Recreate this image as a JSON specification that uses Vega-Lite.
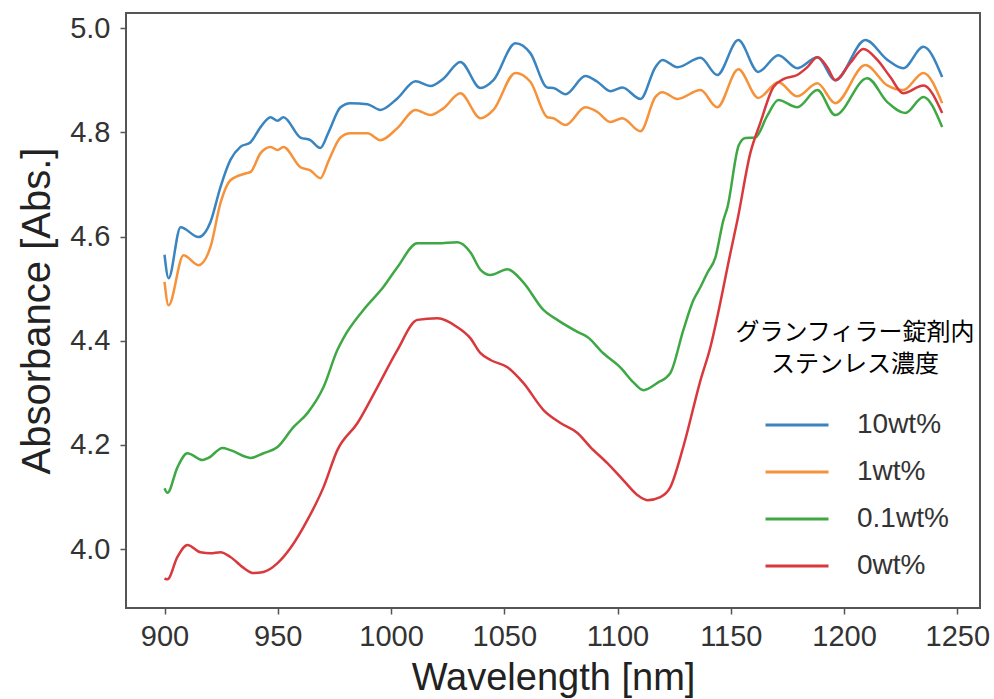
{
 "$schema": "https://vega.github.io/schema/vega-lite/v6.json",
 "width": 854, "height": 595,
 "autosize": {"type": "none"},
 "padding": {"left": 126, "top": 13, "right": 14, "bottom": 91},
 "background": "white",
 "config": {"view": {"stroke": "#555", "strokeWidth": 2}, "font": "Liberation Sans"},
 "data": {"values": [
  {"s":"10wt%","w":900,"a":4.565},{"s":"10wt%","w":901.8,"a":4.52},{"s":"10wt%","w":907.1,"a":4.618},{"s":"10wt%","w":915,"a":4.599},{"s":"10wt%","w":920.3,"a":4.628},{"s":"10wt%","w":924.7,"a":4.695},{"s":"10wt%","w":929.1,"a":4.747},{"s":"10wt%","w":933.5,"a":4.772},{"s":"10wt%","w":938,"a":4.781},{"s":"10wt%","w":942.4,"a":4.81},{"s":"10wt%","w":946.8,"a":4.829},{"s":"10wt%","w":949.9,"a":4.822},{"s":"10wt%","w":952.5,"a":4.829},{"s":"10wt%","w":960,"a":4.79},{"s":"10wt%","w":964.4,"a":4.785},{"s":"10wt%","w":968.8,"a":4.77},{"s":"10wt%","w":972.4,"a":4.8},{"s":"10wt%","w":977.7,"a":4.848},{"s":"10wt%","w":982.1,"a":4.856},{"s":"10wt%","w":989.6,"a":4.854},{"s":"10wt%","w":995.3,"a":4.843},{"s":"10wt%","w":1002.8,"a":4.865},{"s":"10wt%","w":1010.8,"a":4.898},{"s":"10wt%","w":1017.4,"a":4.889},{"s":"10wt%","w":1023.1,"a":4.903},{"s":"10wt%","w":1030.6,"a":4.935},{"s":"10wt%","w":1039.5,"a":4.885},{"s":"10wt%","w":1045.2,"a":4.9},{"s":"10wt%","w":1054.9,"a":4.971},{"s":"10wt%","w":1061.5,"a":4.952},{"s":"10wt%","w":1069,"a":4.886},{"s":"10wt%","w":1071.7,"a":4.885},{"s":"10wt%","w":1077,"a":4.873},{"s":"10wt%","w":1085.8,"a":4.908},{"s":"10wt%","w":1091.1,"a":4.897},{"s":"10wt%","w":1096.8,"a":4.879},{"s":"10wt%","w":1102.1,"a":4.886},{"s":"10wt%","w":1110.1,"a":4.864},{"s":"10wt%","w":1116.7,"a":4.925},{"s":"10wt%","w":1119.8,"a":4.939},{"s":"10wt%","w":1126.4,"a":4.925},{"s":"10wt%","w":1136.6,"a":4.943},{"s":"10wt%","w":1144,"a":4.91},{"s":"10wt%","w":1153.3,"a":4.977},{"s":"10wt%","w":1162.1,"a":4.916},{"s":"10wt%","w":1171,"a":4.948},{"s":"10wt%","w":1179.3,"a":4.923},{"s":"10wt%","w":1188.2,"a":4.944},{"s":"10wt%","w":1196.1,"a":4.9},{"s":"10wt%","w":1209.4,"a":4.977},{"s":"10wt%","w":1219.1,"a":4.939},{"s":"10wt%","w":1226.1,"a":4.923},{"s":"10wt%","w":1235,"a":4.964},{"s":"10wt%","w":1243.3,"a":4.906},
  {"s":"1wt%","w":900,"a":4.513},{"s":"1wt%","w":901.8,"a":4.468},{"s":"1wt%","w":908.4,"a":4.564},{"s":"1wt%","w":915,"a":4.545},{"s":"1wt%","w":920.3,"a":4.58},{"s":"1wt%","w":924.7,"a":4.664},{"s":"1wt%","w":929.1,"a":4.708},{"s":"1wt%","w":935.7,"a":4.721},{"s":"1wt%","w":938,"a":4.724},{"s":"1wt%","w":942.4,"a":4.76},{"s":"1wt%","w":946.8,"a":4.772},{"s":"1wt%","w":949.9,"a":4.766},{"s":"1wt%","w":952.5,"a":4.772},{"s":"1wt%","w":960,"a":4.733},{"s":"1wt%","w":964.4,"a":4.727},{"s":"1wt%","w":968.8,"a":4.712},{"s":"1wt%","w":972.4,"a":4.745},{"s":"1wt%","w":977.7,"a":4.79},{"s":"1wt%","w":982.1,"a":4.798},{"s":"1wt%","w":989.6,"a":4.798},{"s":"1wt%","w":995.3,"a":4.785},{"s":"1wt%","w":1002.8,"a":4.808},{"s":"1wt%","w":1010.8,"a":4.843},{"s":"1wt%","w":1017.4,"a":4.833},{"s":"1wt%","w":1023.1,"a":4.846},{"s":"1wt%","w":1030.6,"a":4.875},{"s":"1wt%","w":1039.5,"a":4.827},{"s":"1wt%","w":1045.2,"a":4.843},{"s":"1wt%","w":1054.9,"a":4.914},{"s":"1wt%","w":1061.5,"a":4.897},{"s":"1wt%","w":1069,"a":4.829},{"s":"1wt%","w":1071.7,"a":4.827},{"s":"1wt%","w":1077,"a":4.814},{"s":"1wt%","w":1085.8,"a":4.848},{"s":"1wt%","w":1091.1,"a":4.839},{"s":"1wt%","w":1096.8,"a":4.82},{"s":"1wt%","w":1102.1,"a":4.827},{"s":"1wt%","w":1110.1,"a":4.802},{"s":"1wt%","w":1116.7,"a":4.868},{"s":"1wt%","w":1119.8,"a":4.877},{"s":"1wt%","w":1126.4,"a":4.864},{"s":"1wt%","w":1136.6,"a":4.881},{"s":"1wt%","w":1144,"a":4.848},{"s":"1wt%","w":1153.3,"a":4.921},{"s":"1wt%","w":1162.1,"a":4.866},{"s":"1wt%","w":1171,"a":4.896},{"s":"1wt%","w":1179.3,"a":4.869},{"s":"1wt%","w":1188.2,"a":4.894},{"s":"1wt%","w":1196.1,"a":4.856},{"s":"1wt%","w":1209.4,"a":4.929},{"s":"1wt%","w":1219.1,"a":4.89},{"s":"1wt%","w":1226.1,"a":4.881},{"s":"1wt%","w":1235,"a":4.914},{"s":"1wt%","w":1243.3,"a":4.856},
  {"s":"0.1wt%","w":900,"a":4.117},{"s":"0.1wt%","w":901.3,"a":4.108},{"s":"0.1wt%","w":905.7,"a":4.157},{"s":"0.1wt%","w":910.1,"a":4.184},{"s":"0.1wt%","w":916.8,"a":4.171},{"s":"0.1wt%","w":919.4,"a":4.175},{"s":"0.1wt%","w":925.6,"a":4.194},{"s":"0.1wt%","w":929.1,"a":4.19},{"s":"0.1wt%","w":938,"a":4.175},{"s":"0.1wt%","w":943.7,"a":4.184},{"s":"0.1wt%","w":949.9,"a":4.196},{"s":"0.1wt%","w":956.9,"a":4.234},{"s":"0.1wt%","w":963.1,"a":4.261},{"s":"0.1wt%","w":970.2,"a":4.311},{"s":"0.1wt%","w":976.3,"a":4.382},{"s":"0.1wt%","w":979,"a":4.405},{"s":"0.1wt%","w":987.8,"a":4.459},{"s":"0.1wt%","w":996.6,"a":4.503},{"s":"0.1wt%","w":1002.8,"a":4.541},{"s":"0.1wt%","w":1011.6,"a":4.587},{"s":"0.1wt%","w":1020.5,"a":4.587},{"s":"0.1wt%","w":1029.3,"a":4.589},{"s":"0.1wt%","w":1035,"a":4.57},{"s":"0.1wt%","w":1039.5,"a":4.536},{"s":"0.1wt%","w":1043.9,"a":4.526},{"s":"0.1wt%","w":1051.4,"a":4.537},{"s":"0.1wt%","w":1058.4,"a":4.512},{"s":"0.1wt%","w":1067.3,"a":4.459},{"s":"0.1wt%","w":1073.4,"a":4.44},{"s":"0.1wt%","w":1082.3,"a":4.417},{"s":"0.1wt%","w":1086.7,"a":4.407},{"s":"0.1wt%","w":1093.7,"a":4.376},{"s":"0.1wt%","w":1101.2,"a":4.349},{"s":"0.1wt%","w":1107,"a":4.32},{"s":"0.1wt%","w":1111.4,"a":4.305},{"s":"0.1wt%","w":1117.6,"a":4.319},{"s":"0.1wt%","w":1123.3,"a":4.338},{"s":"0.1wt%","w":1129,"a":4.42},{"s":"0.1wt%","w":1133.5,"a":4.478},{"s":"0.1wt%","w":1136.6,"a":4.503},{"s":"0.1wt%","w":1139.6,"a":4.53},{"s":"0.1wt%","w":1143.2,"a":4.56},{"s":"0.1wt%","w":1146.7,"a":4.631},{"s":"0.1wt%","w":1148.5,"a":4.656},{"s":"0.1wt%","w":1153.5,"a":4.775},{"s":"0.1wt%","w":1156.4,"a":4.789},{"s":"0.1wt%","w":1160.8,"a":4.79},{"s":"0.1wt%","w":1166.1,"a":4.832},{"s":"0.1wt%","w":1171,"a":4.862},{"s":"0.1wt%","w":1179.3,"a":4.848},{"s":"0.1wt%","w":1188.2,"a":4.881},{"s":"0.1wt%","w":1196.1,"a":4.833},{"s":"0.1wt%","w":1210.2,"a":4.904},{"s":"0.1wt%","w":1219.1,"a":4.858},{"s":"0.1wt%","w":1227,"a":4.837},{"s":"0.1wt%","w":1235,"a":4.868},{"s":"0.1wt%","w":1243.3,"a":4.81},
  {"s":"0wt%","w":900,"a":3.944},{"s":"0wt%","w":901.3,"a":3.942},{"s":"0wt%","w":905.7,"a":3.985},{"s":"0wt%","w":910.1,"a":4.008},{"s":"0wt%","w":915.9,"a":3.994},{"s":"0wt%","w":920.3,"a":3.992},{"s":"0wt%","w":924.7,"a":3.994},{"s":"0wt%","w":929.1,"a":3.985},{"s":"0wt%","w":934.9,"a":3.964},{"s":"0wt%","w":939.3,"a":3.954},{"s":"0wt%","w":943.7,"a":3.956},{"s":"0wt%","w":949.9,"a":3.973},{"s":"0wt%","w":955.6,"a":4.002},{"s":"0wt%","w":963.1,"a":4.056},{"s":"0wt%","w":970.2,"a":4.119},{"s":"0wt%","w":976.3,"a":4.19},{"s":"0wt%","w":985.2,"a":4.242},{"s":"0wt%","w":994,"a":4.311},{"s":"0wt%","w":1002.8,"a":4.382},{"s":"0wt%","w":1011.6,"a":4.44},{"s":"0wt%","w":1020.5,"a":4.443},{"s":"0wt%","w":1029.3,"a":4.426},{"s":"0wt%","w":1035,"a":4.405},{"s":"0wt%","w":1039.5,"a":4.376},{"s":"0wt%","w":1043.9,"a":4.363},{"s":"0wt%","w":1051.4,"a":4.349},{"s":"0wt%","w":1058.4,"a":4.319},{"s":"0wt%","w":1067.3,"a":4.267},{"s":"0wt%","w":1074.8,"a":4.242},{"s":"0wt%","w":1082.3,"a":4.223},{"s":"0wt%","w":1088,"a":4.196},{"s":"0wt%","w":1095.5,"a":4.165},{"s":"0wt%","w":1102.6,"a":4.132},{"s":"0wt%","w":1108.7,"a":4.104},{"s":"0wt%","w":1113.1,"a":4.094},{"s":"0wt%","w":1118.9,"a":4.1},{"s":"0wt%","w":1123.3,"a":4.119},{"s":"0wt%","w":1129,"a":4.196},{"s":"0wt%","w":1136.6,"a":4.324},{"s":"0wt%","w":1141,"a":4.388},{"s":"0wt%","w":1144,"a":4.445},{"s":"0wt%","w":1149.8,"a":4.568},{"s":"0wt%","w":1152.9,"a":4.631},{"s":"0wt%","w":1158.6,"a":4.76},{"s":"0wt%","w":1163,"a":4.818},{"s":"0wt%","w":1168.8,"a":4.887},{"s":"0wt%","w":1173.2,"a":4.902},{"s":"0wt%","w":1179.3,"a":4.91},{"s":"0wt%","w":1183.8,"a":4.925},{"s":"0wt%","w":1188.2,"a":4.944},{"s":"0wt%","w":1192.6,"a":4.925},{"s":"0wt%","w":1196.1,"a":4.9},{"s":"0wt%","w":1202.7,"a":4.933},{"s":"0wt%","w":1208.5,"a":4.96},{"s":"0wt%","w":1214.7,"a":4.939},{"s":"0wt%","w":1220.4,"a":4.906},{"s":"0wt%","w":1226.1,"a":4.875},{"s":"0wt%","w":1235,"a":4.89},{"s":"0wt%","w":1243.3,"a":4.837}
 ]},
 "mark": {"type": "line", "interpolate": "monotone", "strokeWidth": 2.5},
 "encoding": {
  "x": {"field": "w", "type": "quantitative",
   "scale": {"domain": [883, 1260], "nice": false, "zero": false},
   "axis": {"values": [900, 950, 1000, 1050, 1100, 1150, 1200, 1250], "format": "d", "title": "Wavelength [nm]", "grid": false, "domain": false,
    "tickColor": "#555", "tickSize": 6, "tickWidth": 1.5, "labelFontSize": 29, "labelColor": "#333", "labelPadding": 8,
    "titleFontSize": 38, "titleFontWeight": "normal", "titleColor": "#222", "titlePadding": 8}},
  "y": {"field": "a", "type": "quantitative",
   "scale": {"domain": [3.887, 5.029], "nice": false, "zero": false},
   "axis": {"values": [4.0, 4.2, 4.4, 4.6, 4.8, 5.0], "format": ".1f", "title": "Absorbance [Abs.]", "grid": false, "domain": false,
    "tickColor": "#555", "tickSize": 6, "tickWidth": 1.5, "labelFontSize": 29, "labelColor": "#333", "labelPadding": 10,
    "titleFontSize": 40, "titleFontWeight": "normal", "titleColor": "#222", "titlePadding": 12}},
  "color": {"field": "s", "type": "nominal",
   "scale": {"domain": ["10wt%", "1wt%", "0.1wt%", "0wt%"], "range": ["#3a84c0", "#f6923a", "#3ea845", "#d9383c"]},
   "legend": {"orient": "none", "legendX": 609, "legendY": 308, "padding": 0,
    "title": ["グランフィラー錠剤内", "ステンレス濃度"], "titleFont": "Noto Sans CJK JP", "titleFontSize": 24, "titleFontWeight": "normal",
    "titleLimit": 400, "titleLineHeight": 32, "titleAnchor": "middle", "titleAlign": "center", "titlePadding": 15, "titleColor": "#000",
    "symbolType": "stroke", "symbolSize": 3969, "symbolStrokeWidth": 3, "symbolOffset": 3,
    "labelFontSize": 28, "labelOffset": 27, "labelColor": "#333", "rowPadding": -1}}
 }
}
